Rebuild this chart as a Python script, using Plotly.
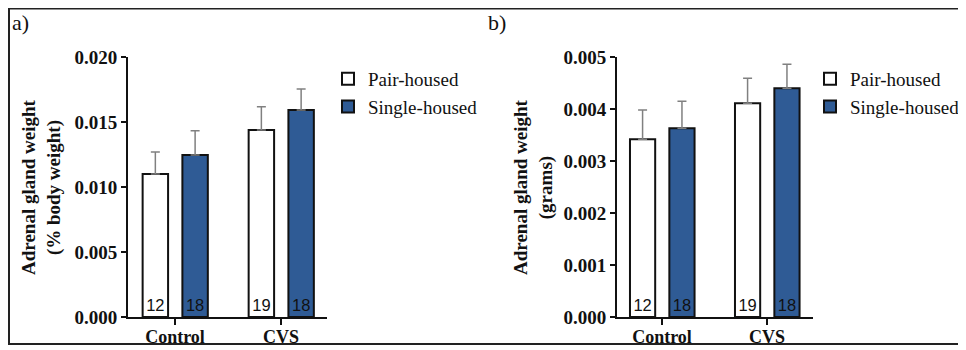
import plotly.graph_objects as go

categories = ["Control", "CVS"]
groups = ["Pair-housed", "Single-housed"]
counts = {"Pair-housed": ["12", "19"], "Single-housed": ["18", "18"]}

# Panel a: % body weight
a_mean = {"Pair-housed": [0.0110, 0.01438], "Single-housed": [0.01246, 0.01592]}
a_err = {"Pair-housed": [0.00169, 0.00180], "Single-housed": [0.00187, 0.00162]}
a_ticks = [0.0, 0.005, 0.010, 0.015, 0.020]
a_ticklabels = ["0.000", "0.005", "0.010", "0.015", "0.020"]

# Panel b: grams
b_mean = {"Pair-housed": [0.00342, 0.00411], "Single-housed": [0.00363, 0.00440]}
b_err = {"Pair-housed": [0.00056, 0.00048], "Single-housed": [0.00052, 0.00046]}
b_ticks = [0.0, 0.001, 0.002, 0.003, 0.004, 0.005]
b_ticklabels = ["0.000", "0.001", "0.002", "0.003", "0.004", "0.005"]

colors = {"Pair-housed": "#ffffff", "Single-housed": "#2f5b95"}
offsets = {"Pair-housed": -0.305, "Single-housed": 0.07}

# page has an 8px body margin: the figure starts at (8, 8) in the window
OFF = 8
FW, FH = 966 - OFF, 350 - OFF
def fx(p):
    return (p - OFF) / FW
def fy(p):
    return 1 - (p - OFF) / FH

SERIF = "Liberation Serif, Times New Roman, serif"
SANS = "Liberation Sans, Arial, sans-serif"
INK = "#111111"

fig = go.Figure()
for panel, means, errs, xa, ya, leg in [("a", a_mean, a_err, "x", "y", "legend"),
                                        ("b", b_mean, b_err, "x2", "y2", "legend2")]:
    for g in groups:
        fig.add_trace(go.Bar(
            x=categories, y=means[g], name=g, xaxis=xa, yaxis=ya, legend=leg,
            legendgroup=panel + g,
            width=0.24, offset=offsets[g],
            marker=dict(color=colors[g], line=dict(color=INK, width=2)),
            text=counts[g], textposition="inside", insidetextanchor="start",
            textangle=0,
            textfont=dict(family=SANS, size=16.5, color=INK),
            error_y=dict(type="data", symmetric=False, array=errs[g],
                         arrayminus=[0, 0], color="#808080", thickness=1.5, width=4.5),
            showlegend=True, cliponaxis=False,
        ))

axis_common = dict(showline=True, linecolor=INK, linewidth=2, ticks="outside",
                   tickcolor=INK, tickwidth=2, showgrid=False, zeroline=False,
                   automargin=False)
xtick = dict(family=SERIF, size=18, color=INK)
ytick = dict(family=SERIF, size=19, color=INK)

legfont = dict(family=SERIF, size=19, color=INK)
fig.update_layout(
    width=FW, height=FH, margin=dict(l=0, r=0, t=0, b=0, pad=0, autoexpand=False),
    paper_bgcolor="white", plot_bgcolor="white", font=dict(family=SERIF),
    barmode="overlay", uniformtext=dict(minsize=8, mode="show"),
    xaxis=dict(domain=[fx(128), fx(327)], range=[-0.443, 1.434], anchor="y",
               ticklen=6, tickvals=categories, tickfont=xtick, ticklabelstandoff=-4,
               ticktext=["<b>%s</b>" % c for c in categories], **axis_common),
    yaxis=dict(domain=[fy(317), fy(57)], range=[0, 0.020], anchor="x",
               tickvals=a_ticks, ticktext=["<b>%s</b>" % t for t in a_ticklabels],
               tickfont=ytick, ticklen=5, **axis_common),
    xaxis2=dict(domain=[fx(617), fx(813)], range=[-0.4286, 1.438], anchor="y2",
                ticklen=6, tickvals=categories, tickfont=xtick, ticklabelstandoff=-4,
                ticktext=["<b>%s</b>" % c for c in categories], **axis_common),
    yaxis2=dict(domain=[fy(317), fy(57)], range=[0, 0.005], anchor="x2",
                tickvals=b_ticks, ticktext=["<b>%s</b>" % t for t in b_ticklabels],
                tickfont=ytick, ticklen=5, **axis_common),
    legend=dict(x=fx(328), y=fy(60), xanchor="left", yanchor="top",
                font=legfont, bgcolor="rgba(0,0,0,0)", tracegroupgap=0,
                traceorder="grouped"),
    legend2=dict(x=fx(810), y=fy(60), xanchor="left", yanchor="top",
                 font=legfont, bgcolor="rgba(0,0,0,0)", tracegroupgap=0,
                 traceorder="grouped"),
    shapes=[dict(type="rect", xref="paper", yref="paper", layer="below",
                 x0=fx(9), x1=fx(961), y0=fy(344), y1=fy(8.5),
                 line=dict(color="#222222", width=2))],
    annotations=[
        dict(text="a)", x=fx(10), y=fy(8), xref="paper", yref="paper",
             xanchor="left", yanchor="top", showarrow=False,
             font=dict(family=SERIF, size=22, color=INK)),
        dict(text="b)", x=fx(486), y=fy(8), xref="paper", yref="paper",
             xanchor="left", yanchor="top", showarrow=False,
             font=dict(family=SERIF, size=22, color=INK)),
        dict(text="<b>Adrenal gland weight</b><br><b>(% body weight)</b>", x=fx(41), y=fy(187),
             xref="paper", yref="paper", xanchor="center", yanchor="middle", textangle=-90,
             showarrow=False, font=dict(family=SERIF, size=19, color=INK)),
        dict(text="<b>Adrenal gland weight</b><br><b>(grams)</b>", x=fx(533), y=fy(187),
             xref="paper", yref="paper", xanchor="center", yanchor="middle", textangle=-90,
             showarrow=False, font=dict(family=SERIF, size=19, color=INK)),
    ],
)
fig.write_html("out.html")
